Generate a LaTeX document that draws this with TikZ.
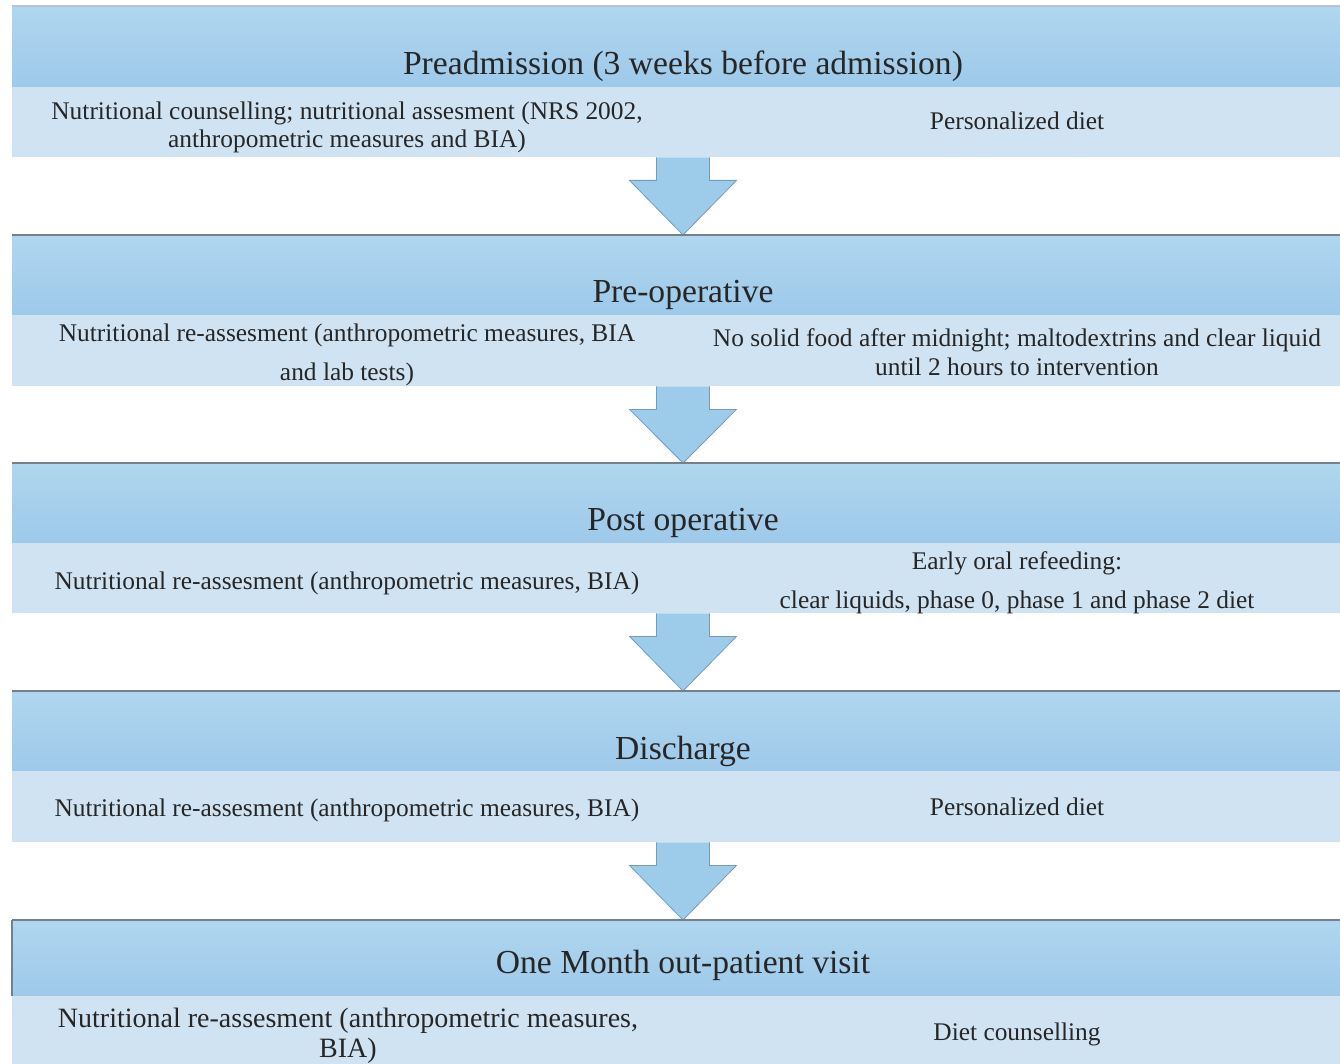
\documentclass[tikz,border=0pt]{standalone}
\usepackage{fontspec}
\setmainfont{Liberation Serif}
\usetikzlibrary{calc}

\definecolor{hdrtop}{RGB}{176,214,239}
\definecolor{hdrbot}{RGB}{158,201,234}
\definecolor{bodyband}{RGB}{208,227,242}
\definecolor{arrowfill}{RGB}{157,203,234}
\definecolor{arrowline}{RGB}{118,156,186}
\definecolor{rulegray}{RGB}{118,128,140}
\definecolor{rulelight}{RGB}{185,195,205}

% block arrow from the bottom of one band to the top of the next header
\newcommand\stagearrow[2]{%
  \draw[flow] ($(#1.south west)+(644.5,0)$) -- ++(0,23) -- ++(-27,0)
    -- ($(#2.north west)+(671,0)$) -- ($(#1.south west)+(724.5,23)$)
    -- ++(-27,0) -- ++(0,-23);
}

\begin{document}
\begin{tikzpicture}[x=1pt,y=-1pt,
  hdr/.style={rectangle, inner sep=0, anchor=north west, minimum width=1342pt,
    top color=hdrtop, bottom color=hdrbot, draw=none},
  band/.style={rectangle, inner sep=0, anchor=north west, minimum width=1342pt,
    fill=bodyband, draw=none},
  title/.style={font=\fontsize{33.6}{38}\selectfont, inner sep=0, text=black!85},
  body/.style={font=\fontsize{25.4}{28}\selectfont, inner sep=0, align=center, text=black!85},
  flow/.style={fill=arrowfill, draw=arrowline, line width=0.8pt, line join=miter},
  toprule/.style={draw=rulegray, line width=1.3pt}]

\useasboundingbox (0,0) rectangle (1340,1064);
\fill[white] (0,0) rectangle (1340,1064);

% stage bands
\node[hdr, minimum height=81pt] (h1) at (12,6) {};
\node[band, minimum height=70pt] (b1) at (12,87) {};
\node[hdr, minimum height=80pt] (h2) at (12,235) {};
\node[band, minimum height=71pt] (b2) at (12,315) {};
\node[hdr, minimum height=80pt] (h3) at (12,463) {};
\node[band, minimum height=70pt] (b3) at (12,543) {};
\node[hdr, minimum height=80pt] (h4) at (12,691) {};
\node[band, minimum height=71pt] (b4) at (12,771) {};
\node[hdr, minimum height=76pt] (h5) at (12,920) {};
\node[band, minimum height=72pt] (b5) at (12,996) {};

% arrows between stages
\stagearrow{b1}{h2}
\stagearrow{b2}{h3}
\stagearrow{b3}{h4}
\stagearrow{b4}{h5}

% upper edges of the stages
\draw[draw=rulelight, line width=1.3pt] (h1.north west) -- (h1.north east);
\draw[toprule] (h2.north west) -- (h2.north east);
\draw[toprule] (h3.north west) -- (h3.north east);
\draw[toprule] (h4.north west) -- (h4.north east);
\draw[toprule] (h5.north west) -- (h5.north east);
\draw[toprule] (h5.north west) -- (h5.south west);

% titles
\node[title] (t1) at (683,66) {Preadmission (3 weeks before admission)};
\node[title] (t2) at (683,295) {Pre-operative};
\node[title] (t3) at (683,523) {Post operative};
\node[title] (t4) at (683,751) {Discharge};
\node[title] (t5) at (683,965) {One Month out-patient visit};

% stage contents
\node[body] (l1) at (347,127) {Nutritional counselling; nutritional assesment (NRS 2002,\\anthropometric measures and BIA)};
\node[body] (r1) at (1017,121) {Personalized diet};

\node[body] (l2) at (347,354.5) {Nutritional re-assesment (anthropometric measures, BIA\\[11pt]and lab tests)};
\node[body] (r2) at (1017,352.5) {No solid food after midnight; maltodextrins and clear liquid\\[1pt]until 2 hours to intervention};

\node[body] (l3) at (347,583) {Nutritional re-assesment (anthropometric measures, BIA)};
\node[body] (r3) at (1017,582.5) {Early oral refeeding:\\[11pt]clear liquids, phase 0, phase 1 and phase 2 diet};

\node[body] (l4) at (347,810) {Nutritional re-assesment (anthropometric measures, BIA)};
\node[body] (r4) at (1017,807) {Personalized diet};

\node[body, font=\fontsize{28}{30}\selectfont] (l5) at (348,1036) {Nutritional re-assesment (anthropometric measures,\\BIA)};
\node[body] (r5) at (1017,1034) {Diet counselling};
\end{tikzpicture}
\end{document}
